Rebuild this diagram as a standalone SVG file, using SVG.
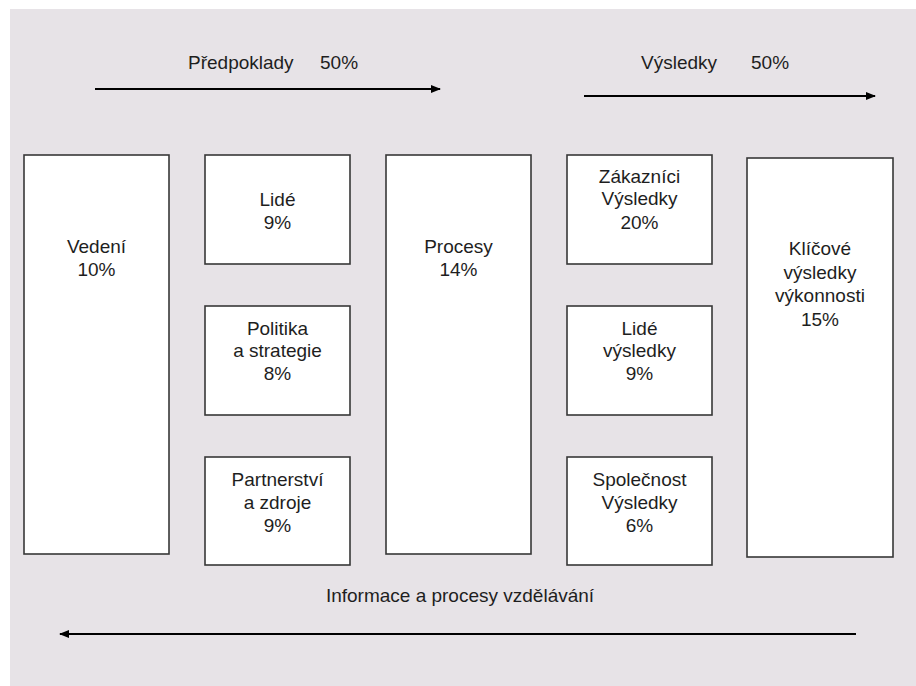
<svg xmlns="http://www.w3.org/2000/svg" width="916" height="686" viewBox="0 0 916 686">
<defs>
<style>
.box{fill:#ffffff;stroke:#383838;stroke-width:1.6}
.t{font-family:"Liberation Sans",Arial,sans-serif;font-size:19px;fill:#1e1e1e;text-anchor:middle}
.l{font-family:"Liberation Sans",Arial,sans-serif;font-size:19px;fill:#1e1e1e}
.arr{stroke:#000000;stroke-width:2;fill:none}
</style>
<marker id="ah" viewBox="0 0 10 10" refX="9" refY="5" markerWidth="10" markerHeight="10" markerUnits="userSpaceOnUse" orient="auto">
<path d="M0,1 L10,5 L0,9 Z" fill="#000000"/>
</marker>
</defs>
<rect x="0" y="0" width="916" height="686" fill="#ffffff"/>
<rect x="10" y="9" width="906" height="677" fill="#E7E3E7"/>

<g id="connectors">
<line class="arr" x1="95" y1="89" x2="440" y2="89" marker-end="url(#ah)"/>
<line class="arr" x1="584" y1="96" x2="875" y2="96" marker-end="url(#ah)"/>
<line class="arr" x1="856" y1="634" x2="60" y2="634" marker-end="url(#ah)"/>
</g>

<g id="label-predpoklady"><text class="l" y="69"><tspan x="188">Předpoklady</tspan><tspan x="320">50%</tspan></text></g>
<g id="label-vysledky"><text class="l" y="69"><tspan x="641">Výsledky</tspan><tspan x="751">50%</tspan></text></g>
<g id="label-informace"><text class="t" x="460" y="602">Informace a procesy vzdělávání</text></g>

<g id="vedeni">
<rect class="box" x="24" y="155" width="145" height="399"/>
<text class="t" x="96.5" y="253">Vedení</text>
<text class="t" x="96.5" y="276">10%</text>
</g>
<g id="lide">
<rect class="box" x="205" y="155" width="145" height="109"/>
<text class="t" x="277.5" y="206">Lidé</text>
<text class="t" x="277.5" y="228.5">9%</text>
</g>
<g id="politika">
<rect class="box" x="205" y="306" width="145" height="109"/>
<text class="t" x="277.5" y="335">Politika</text>
<text class="t" x="277.5" y="357">a strategie</text>
<text class="t" x="277.5" y="379.5">8%</text>
</g>
<g id="partnerstvi">
<rect class="box" x="205" y="457" width="145" height="108"/>
<text class="t" x="277.5" y="486">Partnerství</text>
<text class="t" x="277.5" y="508.5">a zdroje</text>
<text class="t" x="277.5" y="531.5">9%</text>
</g>
<g id="procesy">
<rect class="box" x="386" y="155" width="145" height="399"/>
<text class="t" x="458.5" y="253">Procesy</text>
<text class="t" x="458.5" y="276">14%</text>
</g>
<g id="zakaznici">
<rect class="box" x="567" y="155" width="145" height="109"/>
<text class="t" x="639.5" y="182.5">Zákazníci</text>
<text class="t" x="639.5" y="205">Výsledky</text>
<text class="t" x="639.5" y="228.5">20%</text>
</g>
<g id="lide-vysledky">
<rect class="box" x="567" y="306" width="145" height="109"/>
<text class="t" x="639.5" y="335">Lidé</text>
<text class="t" x="639.5" y="357">výsledky</text>
<text class="t" x="639.5" y="379.5">9%</text>
</g>
<g id="spolecnost">
<rect class="box" x="567" y="457" width="145" height="108"/>
<text class="t" x="639.5" y="486">Společnost</text>
<text class="t" x="639.5" y="508.5">Výsledky</text>
<text class="t" x="639.5" y="531.5">6%</text>
</g>
<g id="klicove">
<rect class="box" x="747" y="158" width="146" height="399"/>
<text class="t" x="820" y="255">Klíčové</text>
<text class="t" x="820" y="278.5">výsledky</text>
<text class="t" x="820" y="302">výkonnosti</text>
<text class="t" x="820" y="325.5">15%</text>
</g>
</svg>
